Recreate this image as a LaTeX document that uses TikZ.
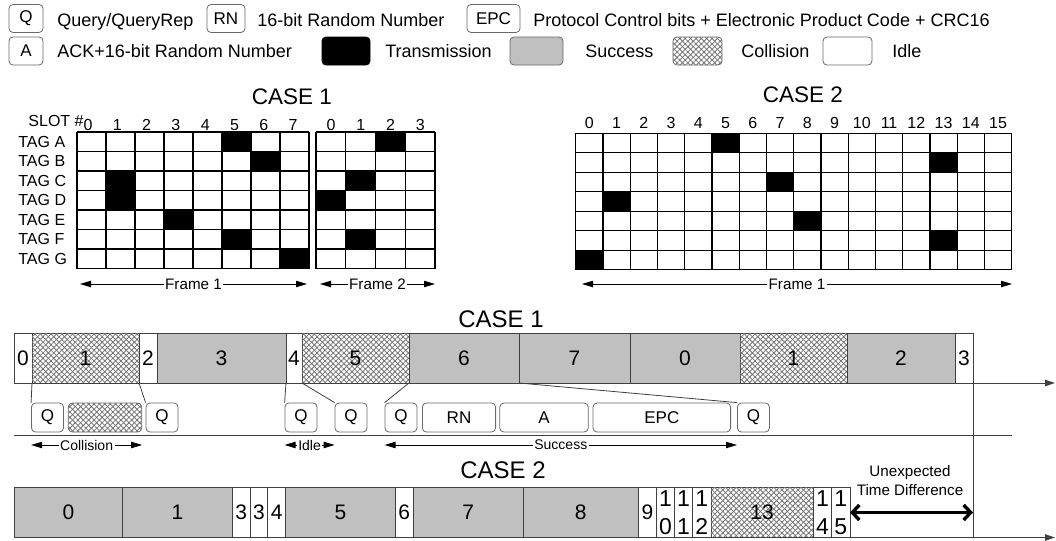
\documentclass[tikz,border=0pt]{standalone}
\usepackage{fontspec}
\setmainfont{Liberation Sans}
\usetikzlibrary{arrows.meta,positioning,patterns.meta}

\definecolor{succgray}{RGB}{192,192,192}
\definecolor{edgegray}{RGB}{64,64,64}
\definecolor{hatchgray}{RGB}{115,115,115}
\definecolor{qgray}{RGB}{105,105,105}
\newcommand{\fsz}[1]{\fontsize{#1}{#1}\selectfont}

\begin{document}
\begin{tikzpicture}[
  x=0.5pt, y=-0.5pt,
  hatched/.style={fill=white,
    postaction={pattern={Lines[angle=45,distance=1.9pt,line width=0.4pt]}, pattern color=hatchgray},
    postaction={pattern={Lines[angle=-45,distance=1.9pt,line width=0.4pt]}, pattern color=hatchgray}},
  legtext/.style={anchor=base west, inner sep=0pt, font=\fsz{9}},
  legbox/.style={draw=qgray, rounded corners=2pt, minimum height=14pt, inner sep=0pt, font=\fsz{8.5}},
  title/.style={inner sep=0pt, font=\fsz{11.25}},
  collbl/.style={inner sep=0pt, font=\fsz{8}},
  taglbl/.style={anchor=west, inner sep=0pt, font=\fsz{8}},
  gridline/.style={line width=0.65pt},
  slot/.style={draw=edgegray, line width=0.5pt, minimum height=25pt, inner sep=0pt, outer sep=0pt,
    align=center, font=\fontsize{10.5}{12.5}\selectfont},
  idle/.style={slot, fill=white},
  succ/.style={slot, fill=succgray},
  coll/.style={slot, hatched},
  stk/.style={idle, font=\fontsize{11.5}{14}\selectfont},
  qbox/.style={draw=qgray, fill=white, rounded corners=2pt, minimum height=14.5pt, minimum width=16pt,
    inner sep=0pt, font=\fsz{8.5}},
  link/.style={draw=edgegray, line width=0.4pt},
  span/.style={{Triangle[length=5.5pt,width=3.2pt]}-{Triangle[length=5.5pt,width=3.2pt]}, line width=0.45pt},
  lbl/.style={fill=white, inner sep=0.8pt, font=\fsz{7.6}},
  axis/.style={-{Triangle[length=5pt,width=3.2pt]}, draw=edgegray, line width=0.5pt},
  utd/.style={{Straight Barb[length=3.5pt,width=7.5pt]}-{Straight Barb[length=3.5pt,width=7.5pt]},
    line width=1.7pt, line cap=round}
]
\useasboundingbox (0,0) rectangle (1056,541);

% legend
\node[legbox, minimum width=17pt] (lq) at (26,18.5) {Q};
\node[legtext] (lqt) at (57,26.5) {Query/QueryRep};
\node[legbox, minimum width=19pt] (lrn) at (226,18.5) {RN};
\node[legtext] (lrnt) at (257,26.5) {16-bit Random Number};
\node[legbox, minimum width=26.5pt] (lepc) at (493.5,18.5) {EPC};
\node[legtext] (lepct) at (533,26.5) {Protocol Control bits + Electronic Product Code + CRC16};
\node[legbox, minimum width=17pt] (la) at (26,51) {A};
\node[legtext] (lat) at (57,57) {ACK+16-bit Random Number};
\node[legbox, fill=black, draw=black, minimum width=24pt] (ltx) at (346,51) {};
\node[legtext] (ltxt) at (385,57) {Transmission};
\node[legbox, fill=succgray, minimum width=26.5pt] (lsu) at (536.5,51) {};
\node[legtext] (lsut) at (585,57) {Success};
\node[legbox, hatched, minimum width=24.5pt] (lco) at (697.5,51) {};
\node[legtext] (lcot) at (741,57) {Collision};
\node[legbox, minimum width=24.5pt] (lid) at (847.5,51) {};
\node[legtext] (lidt) at (892,57) {Idle};

% tag grids
\node[title] (g1) at (292,97) {CASE 1};
\node[title] (g2) at (803,95) {CASE 2};
\node[collbl, anchor=east] (slot) at (84,121) {SLOT \#};
\foreach \t [count=\r from 0] in {A,...,G}
  \node[taglbl] (tag\t) at (18,{141.7+\r*19.5}) {TAG \t};
\foreach \i in {0,...,7} \node[collbl] (fa\i) at ({88+\i*29.3},125) {\i};
\foreach \i in {0,...,3} \node[collbl] (fb\i) at ({331+\i*29.75},125) {\i};
\foreach \i in {0,...,15} \node[collbl] (fc\i) at ({589.3+\i*27.25},123) {\i};

\foreach \c/\r in {5/0,6/1,1/2,1/3,3/4,5/5,7/6}
  \fill ({77+\c*29},{132+\r*19.5}) rectangle ++(29,19.5);
\foreach \c/\r in {2/0,1/2,0/3,1/5}
  \fill ({316+\c*29.75},{132+\r*19.5}) rectangle ++(29.75,19.5);
\foreach \c/\r in {5/0,13/1,7/2,1/3,8/4,13/5,0/6}
  \fill ({575.7+\c*27.25},{133.3+\r*19.5}) rectangle ++(27.25,19.5);
\foreach \i in {0,...,8} \draw[gridline] ({77+\i*29},132) -- ++(0,136.5);
\foreach \j in {0,...,7} \draw[gridline] (77,{132+\j*19.5}) -- ++(232,0);
\foreach \i in {0,...,4} \draw[gridline] ({316+\i*29.75},132) -- ++(0,136.5);
\foreach \j in {0,...,7} \draw[gridline] (316,{132+\j*19.5}) -- ++(119,0);
\foreach \i in {0,...,16} \draw[gridline] ({575.7+\i*27.25},133.3) -- ++(0,136.5);
\foreach \j in {0,...,7} \draw[gridline] (575.7,{133.3+\j*19.5}) -- ++(436,0);

\coordinate (f1a) at (80,284);  \coordinate (f1b) at (307,284);
\coordinate (f2a) at (320,284); \coordinate (f2b) at (435,284);
\coordinate (f3a) at (582,284); \coordinate (f3b) at (1012,284);
\draw[span] (f1a) -- node[lbl] {Frame 1} (f1b);
\draw[span] (f2a) -- node[lbl] {Frame 2} (f2b);
\draw[span] (f3a) -- node[lbl] {Frame 1} (f3b);

% timeline, case 1
\node[title, font=\fsz{12}] (c1) at (501,319) {CASE 1};
\foreach \lab/\xa/\xb/\kind [count=\k] in {0/14/32/idle, 1/32/139/coll, 2/139/157/idle,
    3/157/286/succ, 4/286/302/idle, 5/302/409/coll, 6/409/519/succ, 7/519/630/succ,
    0/630/740/succ, 1/740/847/coll, 2/847/955/succ, 3/955/973/idle}
  \node[\kind, minimum width={(\xb-\xa)*0.5pt}] (ca\k) at ({(\xa+\xb)/2},358) {\lab};
\coordinate (end1) at (1055,383);
\draw[axis] (ca1.south west) -- (end1);

\node[qbox] (q1) at (47.5,417.5) {Q};
\node[qbox, hatched, minimum width=36.7pt] (qx) at (105,417.5) {};
\node[qbox] (q2) at (162,417.5) {Q};
\node[qbox] (q3) at (301,417.5) {Q};
\node[qbox] (q4) at (351,417.5) {Q};
\node[qbox] (q5) at (401,417.5) {Q};
\node[qbox, minimum width=36.6pt, right=2.3pt of q5] (rn) {RN};
\node[qbox, minimum width=44.2pt, right=1.7pt of rn] (ack) {A};
\node[qbox, minimum width=68.8pt, right=2pt of ack] (epc) {EPC};
\node[qbox, right=3pt of epc] (q6) {Q};

\draw[link] (ca2.south west) -- (q1.north west);
\draw[link] (ca2.south east) -- (q2.north west);
\draw[link] (ca5.south west) -- (q3.north west);
\draw[link] (ca6.south west) -- (q4.north west);
\draw[link] (ca6.south east) -- (q5.north west);
\draw[link] (ca7.south east) -- (q6.north west);

\coordinate (lane) at (0,445);
\draw[span] (q1.west |- lane) -- node[lbl, font=\fsz{7}] {Collision} (qx.east |- lane);
\draw[span] (q3.west |- lane) -- node[lbl, font=\fsz{7}] {Idle} (q4.west |- lane);
\draw[span] (q5.west |- lane) -- node[lbl, font=\fsz{7}] {Success} (q6.west |- lane);
\draw[link] (14,435) -- (1012,435);

% timeline, case 2
\node[title, font=\fsz{12}] (c2) at (503,470) {CASE 2};
\foreach \lab/\xa/\xb/\kind [count=\k] in {0/14/122.7/succ, 1/122.7/232.3/succ, 3/232.3/250/idle,
    3/250/267.7/idle, 4/267.7/285.7/idle, 5/285.7/395/succ, 6/395/413.3/idle, 7/413.3/523/succ,
    8/523/638.3/succ, 9/638.3/656.7/idle, {1\\0}/656.7/674.3/stk, {1\\1}/674.3/692.7/stk,
    {1\\2}/692.7/711/stk, 13/711/813.3/coll, {1\\4}/813.3/831.7/stk, {1\\5}/831.7/850/stk}
  \node[\kind, minimum width={(\xb-\xa)*0.5pt}] (cb\k) at ({(\xa+\xb)/2},512.5) {\lab};
\coordinate (end2) at (1055,537.5);
\draw[axis] (cb1.south west) -- (end2);

\draw[link] (ca12.north east) -- (ca12.north east |- cb16.south);
\node[align=center, inner sep=0pt, font=\fontsize{7.6}{9.5}\selectfont] (utdlbl) at (910,481)
  {Unexpected\\Time Difference};
\draw[utd] (cb16.east) -- (cb16.east -| ca12.east);
\end{tikzpicture}
\end{document}
